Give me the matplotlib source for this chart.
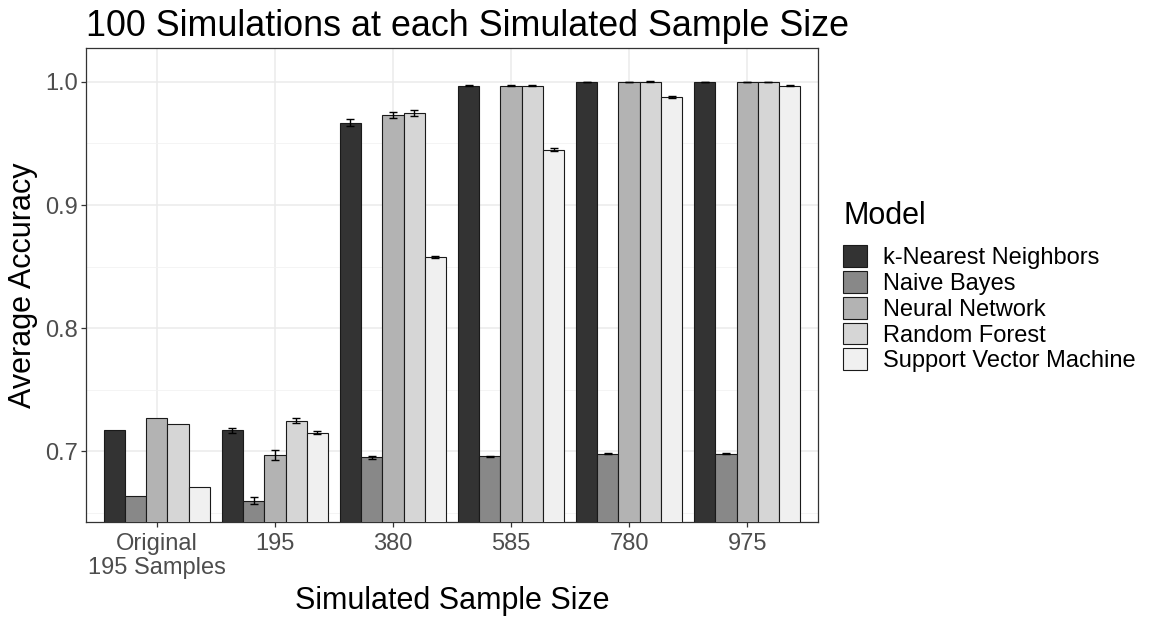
import numpy as np
import matplotlib.pyplot as plt
from matplotlib.patches import Patch

plt.rcParams['font.family'] = ['Liberation Sans', 'DejaVu Sans']

sample_sizes = ['Original\n195 Samples', '195', '380', '585', '780', '975']
models = ['k-Nearest Neighbors', 'Naive Bayes', 'Neural Network',
          'Random Forest', 'Support Vector Machine']

# mean accuracy per model, one entry per sample size
knn = [0.717, 0.717, 0.967, 0.997, 1.000, 1.000]
nb = [0.664, 0.660, 0.695, 0.696, 0.698, 0.698]
nn = [0.727, 0.697, 0.973, 0.997, 1.000, 1.000]
rf = [0.722, 0.725, 0.975, 0.997, 1.000, 1.000]
svm = [0.671, 0.715, 0.858, 0.945, 0.988, 0.997]

# standard errors (original data has a single run, so no bars)
knn_err = [0, 0.0019, 0.0025, 0.0005, 0.0002, 0.0002]
nb_err = [0, 0.0030, 0.0010, 0.0005, 0.0005, 0.0005]
nn_err = [0, 0.0038, 0.0024, 0.0005, 0.0002, 0.0002]
rf_err = [0, 0.0024, 0.0024, 0.0005, 0.0004, 0.0002]
svm_err = [0, 0.0013, 0.0010, 0.0010, 0.0008, 0.0005]

means = [knn, nb, nn, rf, svm]
errs = [knn_err, nb_err, nn_err, rf_err, svm_err]
fills = ['#333333', '#888888', '#b3b3b3', '#d6d6d6', '#f0f0f0']

W, H = 1149, 617
fig = plt.figure(figsize=(W / 100, H / 100), dpi=100)
ax = fig.add_axes([86 / W, (H - 522) / H, (818 - 86) / W, (522 - 48) / H])

x = np.arange(1, len(sample_sizes) + 1)
bar_w = 0.9 / len(models)
for i, (m, e) in enumerate(zip(means, errs)):
    pos = x - 0.45 + bar_w * (i + 0.5)
    ax.bar(pos, m, width=bar_w, color=fills[i], edgecolor='#1a1a1a',
           linewidth=0.8, zorder=3, label=models[i])
    has_err = np.array(e) > 0
    ax.errorbar(pos[has_err], np.array(m)[has_err], yerr=np.array(e)[has_err],
                fmt='none', ecolor='black', elinewidth=1, capsize=3,
                capthick=1, zorder=4)

ax.set_xlim(0.4, 6.6)
ax.set_ylim(0.6426, 1.0275)
ax.set_xticks(x)
ax.set_xticklabels(sample_sizes)
ax.set_yticks([0.7, 0.8, 0.9, 1.0])
ax.set_yticklabels(['0.7', '0.8', '0.9', '1.0'])
ax.set_yticks([0.65, 0.75, 0.85, 0.95], minor=True)

# theme_bw style grid and border
ax.set_axisbelow(True)
ax.grid(which='major', color='#ebebeb', linewidth=1.1)
ax.grid(which='minor', axis='y', color='#f2f2f2', linewidth=0.6)
for s in ax.spines.values():
    s.set_color('#333333')
    s.set_linewidth(0.9)
ax.tick_params(which='major', length=3.5, width=0.9, color='#333333',
               labelsize=17, labelcolor='#4d4d4d', pad=2.5)
ax.tick_params(axis='x', which='major', pad=4.5)
ax.tick_params(which='minor', length=0)
for lbl in ax.get_xticklabels():
    lbl.set_linespacing(1.1)

ax.set_xlabel('Simulated Sample Size', fontsize=22, labelpad=5)
ax.set_ylabel('Average Accuracy', fontsize=22, labelpad=5)
ax.set_title('100 Simulations at each Simulated Sample Size', fontsize=25.8,
             loc='left', x=0.0, pad=9)

handles = [Patch(facecolor=fills[i], edgecolor='#1a1a1a', linewidth=0.8)
           for i in range(len(models))]
leg = fig.legend(handles, models, loc='upper left',
                 bbox_to_anchor=(843 / W, 1 - 201 / H), frameon=False,
                 title='Model', fontsize=17, title_fontsize=22,
                 borderpad=0, borderaxespad=0,
                 handlelength=1.02, handleheight=1.05, handletextpad=0.68,
                 labelspacing=0.08, alignment='left')
leg._legend_box.sep = 10

plt.savefig('out.png', dpi=100)
